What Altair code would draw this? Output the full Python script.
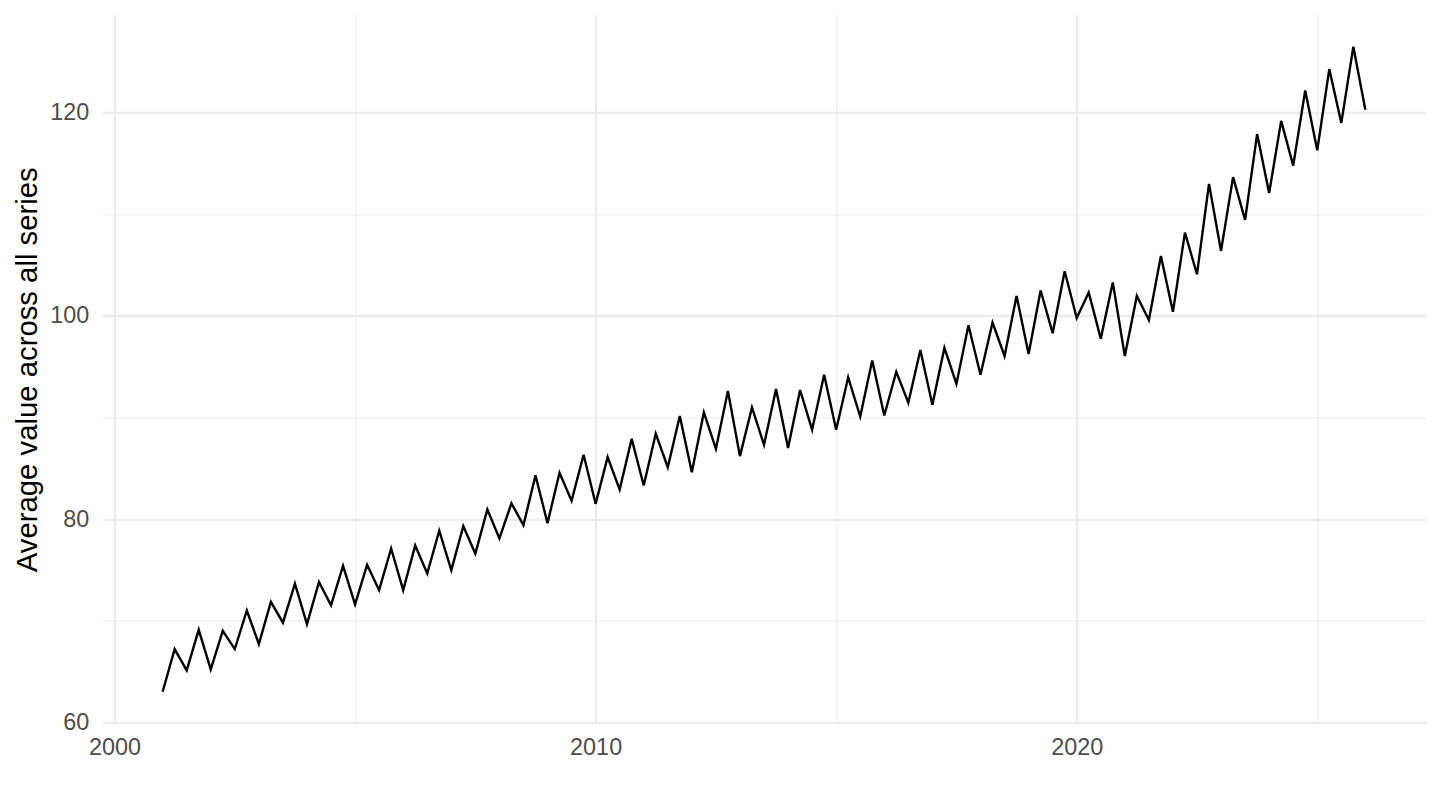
import altair as alt
import pandas as pd

# Quarterly observations, 2001 Q1 .. 2026 Q1
start_year = 2001
values = [
    63.0, 67.2, 65.1, 69.1, 65.2, 69.0, 67.2, 71.0, 67.7, 71.85,
    69.8, 73.65, 69.65, 73.8, 71.5, 75.4, 71.6, 75.5, 73.0, 77.1,
    73.0, 77.4, 74.65, 78.85, 74.97, 79.3, 76.6, 80.95, 78.1, 81.55,
    79.4, 84.3, 79.6, 84.56, 81.8, 86.33, 81.5, 86.1, 82.9, 87.9,
    83.3, 88.4, 85.1, 90.15, 84.6, 90.5, 86.9, 92.6, 86.2, 91.0,
    87.3, 92.8, 87.0, 92.7, 88.8, 94.2, 88.8, 93.96, 90.1, 95.6,
    90.2, 94.5, 91.46, 96.65, 91.26, 96.85, 93.3, 99.08, 94.2, 99.35,
    96.06, 101.97, 96.26, 102.5, 98.3, 104.4, 99.8, 102.3, 97.76, 103.3,
    96.06, 101.97, 99.6, 105.9, 100.4, 108.2, 104.1, 113.0, 106.4, 113.66,
    109.46, 117.9, 112.1, 119.2, 114.8, 122.2, 116.3, 124.3, 119.0, 126.5,
    120.3,
]
times = [start_year + i / 4 for i in range(len(values))]

x_ticks = [2000, 2005, 2010, 2015, 2020, 2025]
y_ticks = [60, 70, 80, 90, 100, 110, 120]

df = pd.DataFrame({"time": times, "value": values})

W, H = 1323, 709.5
FONT = "Liberation Sans"
LABEL_SIZE = 23.4
TITLE_SIZE = 29.3

x_axis = alt.Axis(
    values=x_ticks,
    format="d",
    labelExpr="datum.value % 10 === 0 ? datum.label : ''",
    title=None,
    domain=False,
    ticks=False,
    tickSize=0,
    labelPadding=12.3,
    labelFontSize=LABEL_SIZE,
    labelFont=FONT,
    labelColor="#4D4D4D",
    labelOverlap=False,
    labelFlush=False,
    labelBound=False,
    gridColor="#EBEBEB",
    gridWidth={"condition": {"test": "datum.value % 10 === 0", "value": 2.3}, "value": 1.2},
)

y_axis = alt.Axis(
    values=y_ticks,
    format="d",
    labelExpr="datum.value % 20 === 0 ? datum.label : ''",
    title="Average value across all series",
    titleFont=FONT,
    titleFontSize=TITLE_SIZE,
    titleFontWeight="normal",
    titleColor="#000000",
    titleAngle=270,
    titleBaseline="alphabetic",
    titleAlign="center",
    titleX=-66,
    titleY=H / 2,
    domain=False,
    ticks=False,
    tickSize=0,
    labelPadding=13.7,
    labelFontSize=LABEL_SIZE,
    labelFont=FONT,
    labelColor="#4D4D4D",
    labelOverlap=False,
    labelBound=False,
    gridColor="#EBEBEB",
    gridWidth={"condition": {"test": "datum.value % 20 === 0", "value": 2.3}, "value": 1.2},
)

chart = (
    alt.Chart(df)
    .mark_line(color="black", strokeWidth=2.4)
    .encode(
        x=alt.X("time:Q", scale=alt.Scale(domain=[1999.75, 2027.25], nice=False, zero=False), axis=x_axis),
        y=alt.Y("value:Q", scale=alt.Scale(domain=[59.825, 129.675], nice=False, zero=False), axis=y_axis),
    )
    .properties(
        width=W,
        height=H,
        autosize=alt.AutoSizeParams(type="none"),
        padding={"left": 94.5, "top": 6.5, "right": 4, "bottom": 70},
        background="white",
    )
    .configure_view(strokeWidth=0)
)

chart.save("out.html", embed_options={"renderer": "svg", "actions": False})
